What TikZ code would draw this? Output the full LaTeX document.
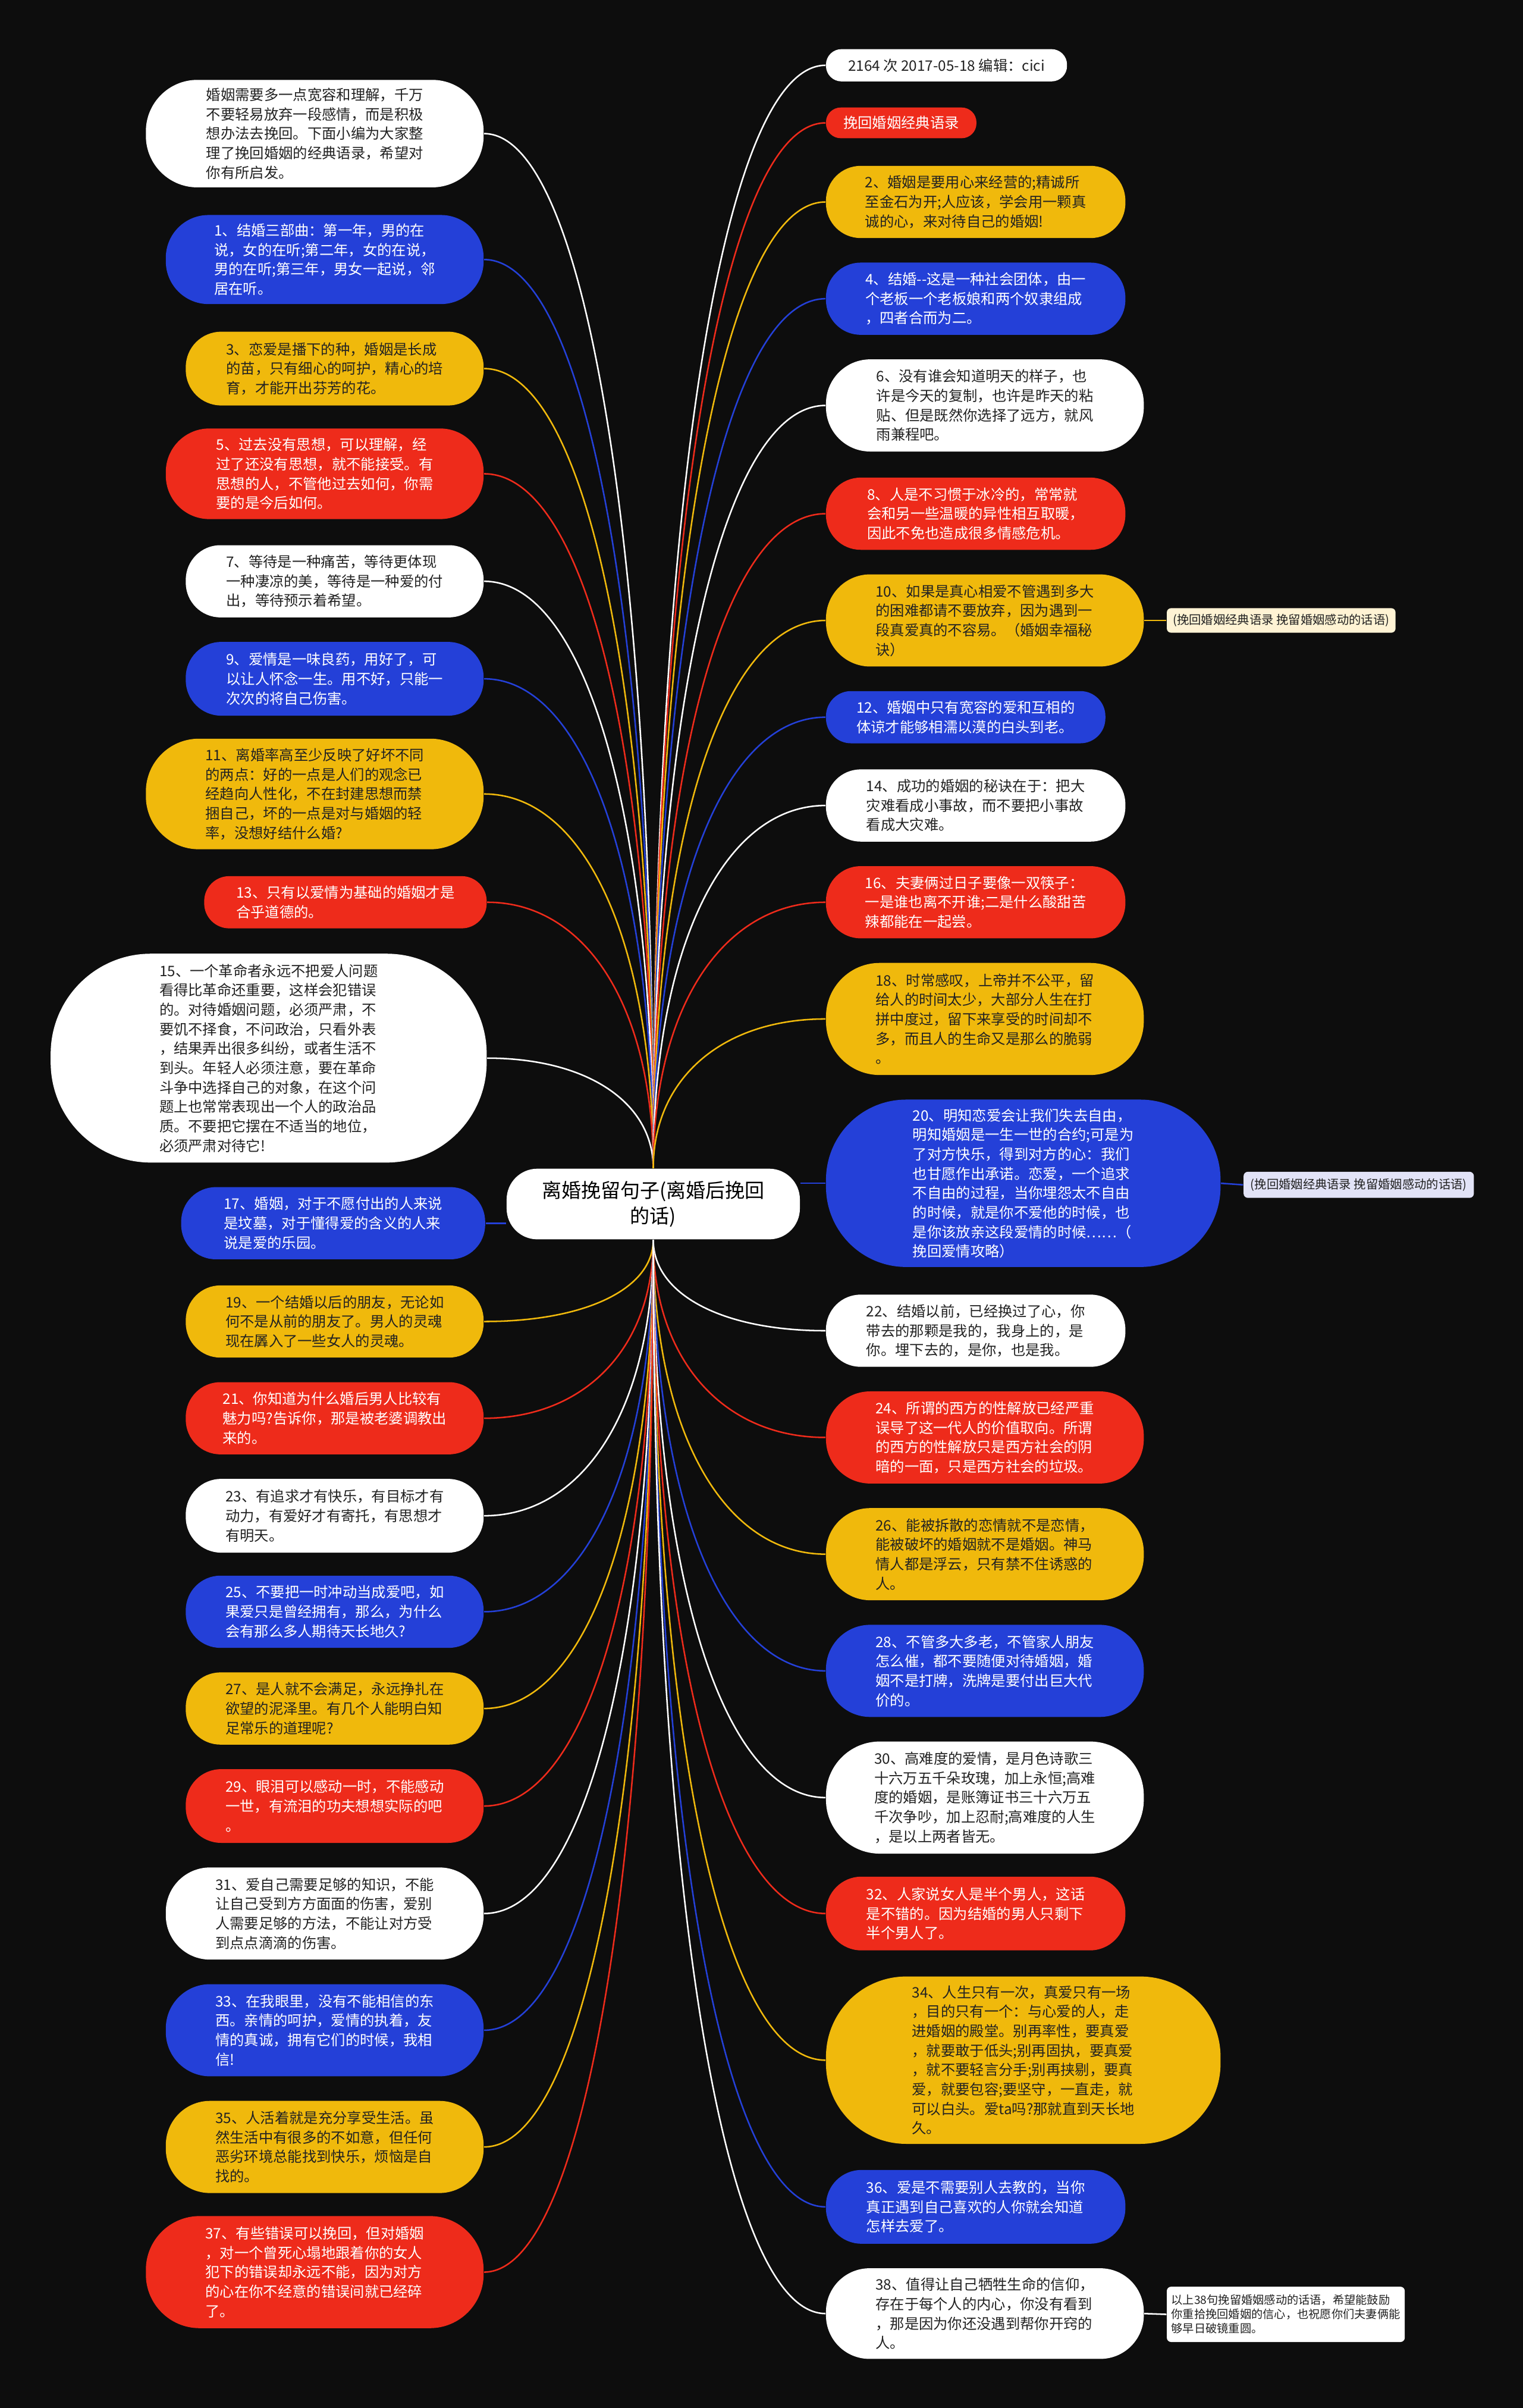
\documentclass[tikz,border=0pt]{standalone}
\usepackage{fontspec}
\setmainfont{Noto Sans CJK SC}
\usepackage{tikz}
\usetikzlibrary{calc}
\usetikzlibrary{backgrounds}

\definecolor{bgc}{HTML}{0D0D0D}
\definecolor{cb}{HTML}{2440D8}
\definecolor{cy}{HTML}{F0B90C}
\definecolor{cr}{HTML}{EE2B1B}
\definecolor{ink}{HTML}{222222}
\definecolor{notey}{HTML}{FFF3D4}
\definecolor{noteb}{HTML}{E2E3F7}

\tikzset{
  pill/.style 2 args={minimum width=#1*0.025cm, minimum height=#2*0.025cm,
    rounded corners=#2*0.012cm, inner sep=0pt, align=left,
    font=\fontsize{6.7}{9}\selectfont},
  whitebox/.style={fill=white, text=ink},
  bluebox/.style={fill=cb, text=white},
  yellowbox/.style={fill=cy, text=ink},
  redbox/.style={fill=cr, text=white},
  note/.style 2 args={minimum width=#1*0.025cm, minimum height=#2*0.025cm,
    rounded corners=2pt, inner sep=0pt, align=left, text=ink},
  link/.style={line width=0.7pt},
  branch/.style={to path={.. controls ($(\tikztostart)!0.6!(\tikztostart |- \tikztotarget)$)
    and ($(\tikztotarget)!0.6!(\tikztostart |- \tikztotarget)$) .. (\tikztotarget)}}
}

\begin{document}
\begin{tikzpicture}[x=0.025cm, y=-0.025cm]
  \useasboundingbox (0,0) rectangle (992,1568);

  % centre
  \node[fill=white, text=black, rounded corners=0.5cm, minimum width=191*0.025cm,
    minimum height=46*0.025cm, align=center, font=\fontsize{9.1}{12}\selectfont]
    (root) at (425.5,784) {离婚挽留句子(离婚后挽回\\的话)};

  % left column
  \node[pill={220}{70}, whitebox] (intro) at (205,87) {婚姻需要多一点宽容和理解，千万\\不要轻易放弃一段感情，而是积极\\想办法去挽回。下面小编为大家整\\理了挽回婚姻的经典语录，希望对\\你有所启发。};
  \node[pill={207}{58}, bluebox] (n1) at (211.5,169) {1、结婚三部曲：第一年，男的在\\说，女的在听;第二年，女的在说，\\男的在听;第三年，男女一起说，邻\\居在听。};
  \node[pill={194}{48}, yellowbox] (n3) at (218,240) {3、恋爱是播下的种，婚姻是长成\\的苗，只有细心的呵护，精心的培\\育，才能开出芬芳的花。};
  \node[pill={207}{59}, redbox] (n5) at (211.5,308.5) {5、过去没有思想，可以理解，经\\过了还没有思想，就不能接受。有\\思想的人，不管他过去如何，你需\\要的是今后如何。};
  \node[pill={194}{47}, whitebox] (n7) at (218,378.5) {7、等待是一种痛苦，等待更体现\\一种凄凉的美，等待是一种爱的付\\出，等待预示着希望。};
  \node[pill={194}{48}, bluebox] (n9) at (218,442) {9、爱情是一味良药，用好了，可\\以让人怀念一生。用不好，只能一\\次次的将自己伤害。};
  \node[pill={220}{72}, yellowbox] (n11) at (205,517) {11、离婚率高至少反映了好坏不同\\的两点：好的一点是人们的观念已\\经趋向人性化，不在封建思想而禁\\捆自己，坏的一点是对与婚姻的轻\\率，没想好结什么婚?};
  \node[pill={184}{34}, redbox] (n13) at (225,587.5) {13、只有以爱情为基础的婚姻才是\\合乎道德的。};
  \node[pill={284}{136}, whitebox] (n15) at (175,689) {15、一个革命者永远不把爱人问题\\看得比革命还重要，这样会犯错误\\的。对待婚姻问题，必须严肃，不\\要饥不择食，不问政治，只看外表\\，结果弄出很多纠纷，或者生活不\\到头。年轻人必须注意，要在革命\\斗争中选择自己的对象，在这个问\\题上也常常表现出一个人的政治品\\质。不要把它摆在不适当的地位，\\必须严肃对待它!};
  \node[pill={198}{47}, bluebox] (n17) at (217,796.5) {17、婚姻，对于不愿付出的人来说\\是坟墓，对于懂得爱的含义的人来\\说是爱的乐园。};
  \node[pill={194}{47}, yellowbox] (n19) at (218,860.5) {19、一个结婚以后的朋友，无论如\\何不是从前的朋友了。男人的灵魂\\现在羼入了一些女人的灵魂。};
  \node[pill={194}{47}, redbox] (n21) at (218,923.5) {21、你知道为什么婚后男人比较有\\魅力吗?告诉你，那是被老婆调教出\\来的。};
  \node[pill={194}{48}, whitebox] (n23) at (218,987) {23、有追求才有快乐，有目标才有\\动力，有爱好才有寄托，有思想才\\有明天。};
  \node[pill={194}{47}, bluebox] (n25) at (218,1049.5) {25、不要把一时冲动当成爱吧，如\\果爱只是曾经拥有，那么，为什么\\会有那么多人期待天长地久?};
  \node[pill={194}{47}, yellowbox] (n27) at (218,1112.5) {27、是人就不会满足，永远挣扎在\\欲望的泥泽里。有几个人能明白知\\足常乐的道理呢?};
  \node[pill={194}{48}, redbox] (n29) at (218,1176) {29、眼泪可以感动一时，不能感动\\一世，有流泪的功夫想想实际的吧\\。};
  \node[pill={207}{60}, whitebox] (n31) at (211.5,1246) {31、爱自己需要足够的知识，不能\\让自己受到方方面面的伤害，爱别\\人需要足够的方法，不能让对方受\\到点点滴滴的伤害。};
  \node[pill={207}{60}, bluebox] (n33) at (211.5,1322) {33、在我眼里，没有不能相信的东\\西。亲情的呵护，爱情的执着，友\\情的真诚，拥有它们的时候，我相\\信!};
  \node[pill={207}{60}, yellowbox] (n35) at (211.5,1398) {35、人活着就是充分享受生活。虽\\然生活中有很多的不如意，但任何\\恶劣环境总能找到快乐，烦恼是自\\找的。};
  \node[pill={220}{73}, redbox] (n37) at (205,1479.5) {37、有些错误可以挽回，但对婚姻\\，对一个曾死心塌地跟着你的女人\\犯下的错误却永远不能，因为对方\\的心在你不经意的错误间就已经碎\\了。};

  % right column
  \node[pill={157}{21}, whitebox] (meta) at (616.5,42.5) {2164 次 2017-05-18 编辑：cici};
  \node[pill={98}{20}, redbox] (hw) at (587,80) {挽回婚姻经典语录};
  \node[pill={195}{47}, yellowbox] (n2) at (635.5,131.5) {2、婚姻是要用心来经营的;精诚所\\至金石为开;人应该，学会用一颗真\\诚的心，来对待自己的婚姻!};
  \node[pill={195}{47}, bluebox] (n4) at (635.5,194.5) {4、结婚-{}-这是一种社会团体，由一\\个老板一个老板娘和两个奴隶组成\\，四者合而为二。};
  \node[pill={207}{60}, whitebox] (n6) at (641.5,264) {6、没有谁会知道明天的样子，也\\许是今天的复制，也许是昨天的粘\\贴、但是既然你选择了远方，就风\\雨兼程吧。};
  \node[pill={195}{47}, redbox] (n8) at (635.5,334.5) {8、人是不习惯于冰冷的，常常就\\会和另一些温暖的异性相互取暖，\\因此不免也造成很多情感危机。};
  \node[pill={207}{60}, yellowbox] (n10) at (641.5,404) {10、如果是真心相爱不管遇到多大\\的困难都请不要放弃，因为遇到一\\段真爱真的不容易。（婚姻幸福秘\\诀）};
  \node[pill={182}{34}, bluebox] (n12) at (629,467) {12、婚姻中只有宽容的爱和互相的\\体谅才能够相濡以漠的白头到老。};
  \node[pill={195}{47}, whitebox] (n14) at (635.5,524.5) {14、成功的婚姻的秘诀在于：把大\\灾难看成小事故，而不要把小事故\\看成大灾难。};
  \node[pill={195}{47}, redbox] (n16) at (635.5,587.5) {16、夫妻俩过日子要像一双筷子：\\一是谁也离不开谁;二是什么酸甜苦\\辣都能在一起尝。};
  \node[pill={207}{73}, yellowbox] (n18) at (641.5,663.5) {18、时常感叹，上帝并不公平，留\\给人的时间太少，大部分人生在打\\拼中度过，留下来享受的时间却不\\多，而且人的生命又是那么的脆弱\\。};
  \node[pill={257}{109}, bluebox] (n20) at (666.5,770.5) {20、明知恋爱会让我们失去自由，\\明知婚姻是一生一世的合约;可是为\\了对方快乐，得到对方的心：我们\\也甘愿作出承诺。恋爱，一个追求\\不自由的过程，当你埋怨太不自由\\的时候，就是你不爱他的时候，也\\是你该放亲这段爱情的时候……（\\挽回爱情攻略）};
  \node[pill={195}{47}, whitebox] (n22) at (635.5,866.5) {22、结婚以前，已经换过了心，你\\带去的那颗是我的，我身上的，是\\你。埋下去的，是你，也是我。};
  \node[pill={207}{60}, redbox] (n24) at (641.5,936) {24、所谓的西方的性解放已经严重\\误导了这一代人的价值取向。所谓\\的西方的性解放只是西方社会的阴\\暗的一面，只是西方社会的垃圾。};
  \node[pill={207}{60}, yellowbox] (n26) at (641.5,1012) {26、能被拆散的恋情就不是恋情，\\能被破坏的婚姻就不是婚姻。神马\\情人都是浮云，只有禁不住诱惑的\\人。};
  \node[pill={207}{60}, bluebox] (n28) at (641.5,1088) {28、不管多大多老，不管家人朋友\\怎么催，都不要随便对待婚姻，婚\\姻不是打牌，洗牌是要付出巨大代\\价的。};
  \node[pill={207}{73}, whitebox] (n30) at (641.5,1170.5) {30、高难度的爱情，是月色诗歌三\\十六万五千朵玫瑰，加上永恒;高难\\度的婚姻，是账簿证书三十六万五\\千次争吵，加上忍耐;高难度的人生\\，是以上两者皆无。};
  \node[pill={195}{48}, redbox] (n32) at (635.5,1246) {32、人家说女人是半个男人，这话\\是不错的。因为结婚的男人只剩下\\半个男人了。};
  \node[pill={257}{109}, yellowbox] (n34) at (666.5,1341.5) {34、人生只有一次，真爱只有一场\\，目的只有一个：与心爱的人，走\\进婚姻的殿堂。别再率性，要真爱\\，就要敢于低头;别再固执，要真爱\\，就不要轻言分手;别再挟剔，要真\\爱，就要包容;要坚守，一直走，就\\可以白头。爱ta吗?那就直到天长地\\久。};
  \node[pill={195}{48}, bluebox] (n36) at (635.5,1437) {36、爱是不需要别人去教的，当你\\真正遇到自己喜欢的人你就会知道\\怎样去爱了。};
  \node[pill={207}{59}, whitebox] (n38) at (641.5,1506.5) {38、值得让自己牺牲生命的信仰，\\存在于每个人的内心，你没有看到\\，那是因为你还没遇到帮你开窍的\\人。};

  % side notes
  \node[note={149}{16}, fill=notey, font=\fontsize{5.6}{7}\selectfont] (tip10) at (834.5,404) {(挽回婚姻经典语录 挽留婚姻感动的话语)};
  \node[note={150}{17}, fill=noteb, font=\fontsize{5.6}{7}\selectfont] (tip20) at (885,771.5) {(挽回婚姻经典语录 挽留婚姻感动的话语)};
  \node[note={155}{36}, fill=white, font=\fontsize{5.3}{6.6}\selectfont] (tip38) at (837.5,1507) {以上38句挽留婚姻感动的话语，希望能鼓励\\你重拾挽回婚姻的信心，也祝愿你们夫妻俩能\\够早日破镜重圆。};

  \begin{scope}[on background layer]
    \fill[bgc] (0,0) rectangle (992,1568);
    % branches
    \foreach \n/\c in {intro/white, n1/cb, n3/cy, n5/cr, n7/white, n9/cb, n11/cy, n13/cr, n15/white}
      \draw[link,\c] (root.north) to[branch] (\n.east);
    \foreach \n/\c in {n19/cy, n21/cr, n23/white, n25/cb, n27/cy, n29/cr, n31/white, n33/cb, n35/cy, n37/cr}
      \draw[link,\c] (root.south) to[branch] (\n.east);
    \foreach \n/\c in {meta/white, hw/cr, n2/cy, n4/cb, n6/white, n8/cr, n10/cy, n12/cb, n14/white, n16/cr, n18/cy}
      \draw[link,\c] (root.north) to[branch] (\n.west);
    \foreach \n/\c in {n22/white, n24/cr, n26/cy, n28/cb, n30/white, n32/cr, n34/cy, n36/cb, n38/white}
      \draw[link,\c] (root.south) to[branch] (\n.west);
    \draw[link,cb] (n17.east) -- (n17.east -| root.west);
    \draw[link,cb] (root.east |- n20.west) -- (n20.west);
    % notes
    \draw[link,cy] (n10.east) -- (tip10.west);
    \draw[link,cb] (n20.east) -- (tip20.west);
    \draw[link,white] (n38.east) -- (tip38.west);
  \end{scope}
\end{tikzpicture}
\end{document}
